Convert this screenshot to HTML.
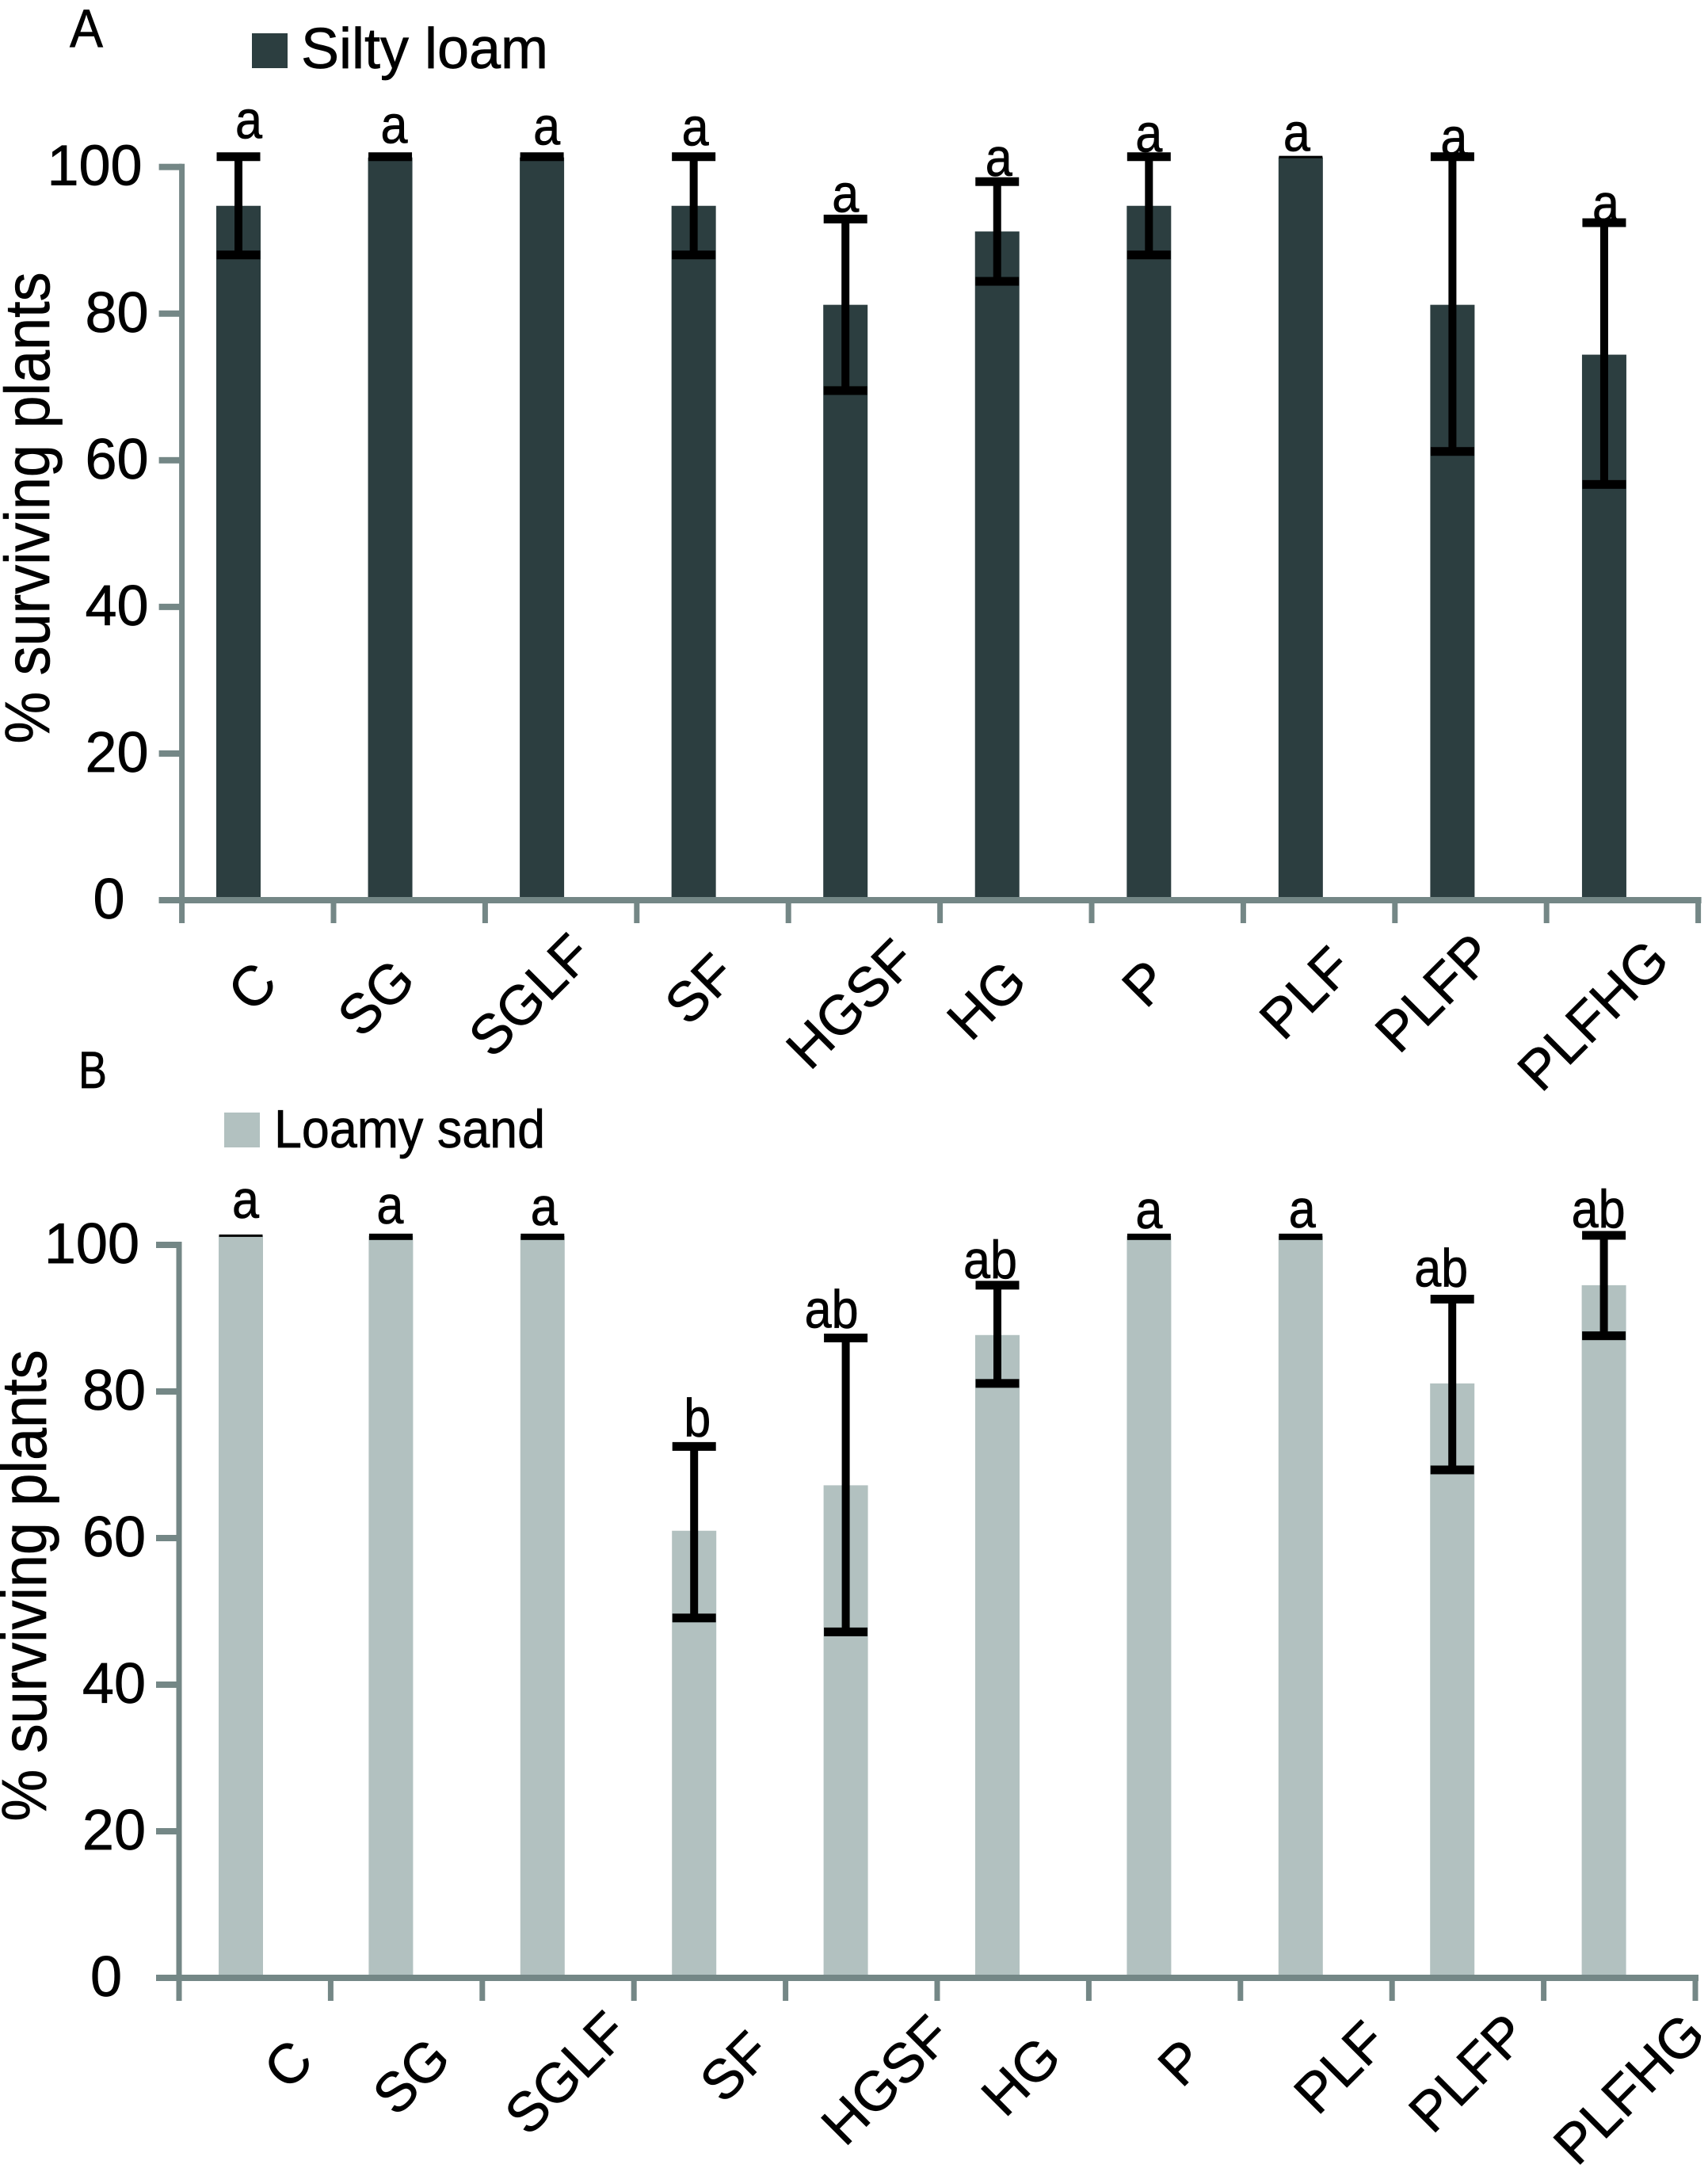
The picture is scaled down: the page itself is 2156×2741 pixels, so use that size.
<!DOCTYPE html>
<html lang="en">
<head>
<meta charset="utf-8">
<title>Surviving plants by treatment</title>
<style>
  html, body { margin: 0; padding: 0; background: #ffffff; }
  svg { display: block; }
  text { font-family: "Liberation Sans", sans-serif; fill: #000000; stroke: #000000; stroke-width: 0.7px; }
</style>
</head>
<body>
<svg id="figure" xmlns="http://www.w3.org/2000/svg" width="2156" height="2741" viewBox="0 0 2156 2741">
  <rect x="0" y="0" width="2156" height="2741" fill="#ffffff"/>
  <text x="88" y="59" font-size="68" textLength="42" lengthAdjust="spacingAndGlyphs">A</text>
  <rect x="318" y="42" width="45" height="44" fill="#2c3e40"/>
  <text x="380" y="86" font-size="72" textLength="312" lengthAdjust="spacingAndGlyphs">Silty loam</text>
  <text x="99" y="1373" font-size="66" textLength="36" lengthAdjust="spacingAndGlyphs">B</text>
  <rect x="283" y="1404" width="45" height="44" fill="#b2c1c0"/>
  <text x="346" y="1448" font-size="68" textLength="342" lengthAdjust="spacingAndGlyphs">Loamy sand</text>
  <g id="panel-a"></g>
  <g id="panel-b"></g>
</svg>
<script>
// ---- chart data ----
const categories = ['C', 'SG', 'SGLF', 'SF', 'HGSF', 'HG', 'P', 'PLF', 'PLFP', 'PLFHG'];
const yTickLabels = [0, 20, 40, 60, 80, 100];

const siltyValues = [94.7, 101.3, 101.3, 94.7, 81.2, 91.2, 94.7, 101.3, 81.2, 74.4];
const siltyErrHigh = [101.4, 101.4, 101.4, 101.4, 92.9, 98.0, 101.4, null, 101.4, 92.4];
const siltyErrLow = [88.0, 101.4, 101.4, 88.0, 69.5, 84.4, 88.0, null, 61.2, 56.7];
const siltySignificance = ['a', 'a', 'a', 'a', 'a', 'a', 'a', 'a', 'a', 'a'];

const loamyValues = [101.2, 101.2, 101.2, 61.0, 67.2, 87.7, 101.2, 101.2, 81.1, 94.5];
const loamyErrHigh = [null, 101.1, 101.1, 72.5, 87.3, 94.5, 101.1, 101.1, 92.6, 101.3];
const loamyErrLow = [null, 101.1, 101.1, 49.1, 47.2, 81.1, 101.1, 101.1, 69.3, 87.6];
const loamySignificance = ['a', 'a', 'a', 'b', 'ab', 'ab', 'a', 'a', 'ab', 'ab'];

// ---- hand-placement nudges (layout only, not data) ----
const panelALayout = {
  x0: 229.6, step: 191.4, y0: 1136, pxPerUnit: 9.253, barFirst: 301, barStep: 191.55, barWidth: 56,
  color: '#2c3e40', flatCap: 11, titleX: 62, titleY: 641,
  barDx: [0, 0, 0, 0, 0, 0, 0, 0, 0, 0],
  sigDx: [13, 5, 6, 2, 0, 2, 0, -5, 2, 2],
  sigDy: [-23, -17, -15, -14, -9, -7, -6, -8, -1, -1],
  catDx: [-7, -42, -39, -16, -17, -37, -28, -17, -46, -37],
  catDy: [109, 123, 120, 112, 131, 126, 105, 117, 117, 145]
};
const panelBLayout = {
  x0: 226, step: 191.4, y0: 2496, pxPerUnit: 9.25, barFirst: 302, barStep: 191.4, barWidth: 56,
  color: '#b2c1c0', flatCap: 8, titleX: 58, titleY: 2001,
  barDx: [2, 0, 0, 0, 0, 0, 0, 0, 0, 0],
  sigDx: [6, -1, 2, 4, -18, -9, 0, 2, -14, -7],
  sigDy: [-23, -17, -15, -13, -13, -9, -11, -12, -16, -10],
  catDx: [42, 6, 10, 32, 31, 10, 21, 30, 0, 12],
  catDy: [109, 124, 120, 112, 129, 124, 107, 113, 120, 140]
};

const SVG_NS = 'http://www.w3.org/2000/svg';
const AXIS_COLOR = '#748786';

function make(parent, tag, attrs, text) {
  const el = document.createElementNS(SVG_NS, tag);
  for (const k in attrs) el.setAttribute(k, attrs[k]);
  if (text !== undefined) el.textContent = text;
  parent.appendChild(el);
  return el;
}

function drawPanel(root, layout, values, errHigh, errLow, significance) {
  const yScale = v => layout.y0 - v * layout.pxPerUnit;
  const barCenter = i => layout.barFirst + i * layout.barStep + layout.barDx[i];
  const tickX = i => layout.x0 + i * layout.step;
  const capW = layout.barWidth - 1;

  // bars
  values.forEach((v, i) => {
    const bar = make(root, 'rect', {
      x: barCenter(i) - layout.barWidth / 2,
      y: yScale(v),
      width: layout.barWidth,
      height: layout.y0 - yScale(v),
      fill: layout.color
    });
    
    
  });

  // y axis line
  const topY = yScale(100);
  const yAxis = make(root, 'rect', { x: layout.x0 - 3.5, y: topY - 4, width: 7, height: layout.y0 - topY + 8, fill: AXIS_COLOR });
  
  

  // y ticks and labels
  yTickLabels.forEach(t => {
    const y = yScale(t);
    const tick = make(root, 'rect', { x: layout.x0 - 29, y: y - 4, width: 29, height: 8, fill: AXIS_COLOR });
    
    
    const gap = t === 100 ? 50 : (t === 0 ? 72 : 42);
    const label = make(root, 'text', { x: layout.x0 - gap, y: y + 23, 'font-size': 72, 'text-anchor': 'end' }, String(t));
    
    
  });

  // x axis line
  const xAxis = make(root, 'rect', { x: layout.x0 - 29, y: layout.y0 - 4, width: 10 * layout.step + 33, height: 8, fill: AXIS_COLOR });
  
  

  // x ticks
  for (let i = 0; i <= categories.length; i++) {
    const tick = make(root, 'rect', { x: tickX(i) - 3.5, y: layout.y0 + 4, width: 7, height: 25, fill: AXIS_COLOR });
    
    
  }

  // x category labels, rotated 45 degrees
  categories.forEach((c, i) => {
    const cx = tickX(i) + layout.step / 2 + layout.catDx[i];
    const cy = layout.y0 + layout.catDy[i];
    const label = make(root, 'text', {
      x: cx, y: cy + 24, 'font-size': 70, 'text-anchor': 'middle',
      transform: 'rotate(-45 ' + cx + ' ' + cy + ')'
    }, c);
    
    
  });

  // error bars
  values.forEach((v, i) => {
    const cx = barCenter(i);
    const hi = errHigh[i];
    const lo = errLow[i];
    if (hi === null || lo === null) {
      const thin = make(root, 'rect', { x: cx - capW / 2, y: yScale(v) - 2, width: capW, height: 3, fill: '#000000' });
      
      
      return;
    }
    if (hi === lo) {
      const flat = make(root, 'rect', { x: cx - capW / 2, y: yScale(hi) - layout.flatCap / 2, width: capW, height: layout.flatCap, fill: '#000000' });
      
      
      return;
    }
    const stem = make(root, 'rect', { x: cx - 5, y: yScale(hi), width: 10, height: yScale(lo) - yScale(hi), fill: '#000000' });
    
    
    const capTop = make(root, 'rect', { x: cx - capW / 2, y: yScale(hi) - 5.5, width: capW, height: 11, fill: '#000000' });
    
    
    const capLow = make(root, 'rect', { x: cx - capW / 2, y: yScale(lo) - 5.5, width: capW, height: 11, fill: '#000000' });
    
    
  });

  // significance letters
  significance.forEach((s, i) => {
    const anchor = errHigh[i] === null ? values[i] : errHigh[i];
    const label = make(root, 'text', {
      x: barCenter(i) + layout.sigDx[i],
      y: yScale(anchor) + layout.sigDy[i],
      'font-size': 68, 'text-anchor': 'middle',
      textLength: s.length * 34, lengthAdjust: 'spacingAndGlyphs'
    }, s);
    
    
  });

  // y axis title
  const title = make(root, 'text', {
    x: layout.titleX, y: layout.titleY, 'font-size': 80, 'text-anchor': 'middle',
    textLength: 595, lengthAdjust: 'spacingAndGlyphs',
    transform: 'rotate(-90 ' + layout.titleX + ' ' + layout.titleY + ')'
  }, '% surviving plants');
  
  
}

drawPanel(document.getElementById('panel-a'), panelALayout, siltyValues, siltyErrHigh, siltyErrLow, siltySignificance);
drawPanel(document.getElementById('panel-b'), panelBLayout, loamyValues, loamyErrHigh, loamyErrLow, loamySignificance);
</script>
</body>
</html>
